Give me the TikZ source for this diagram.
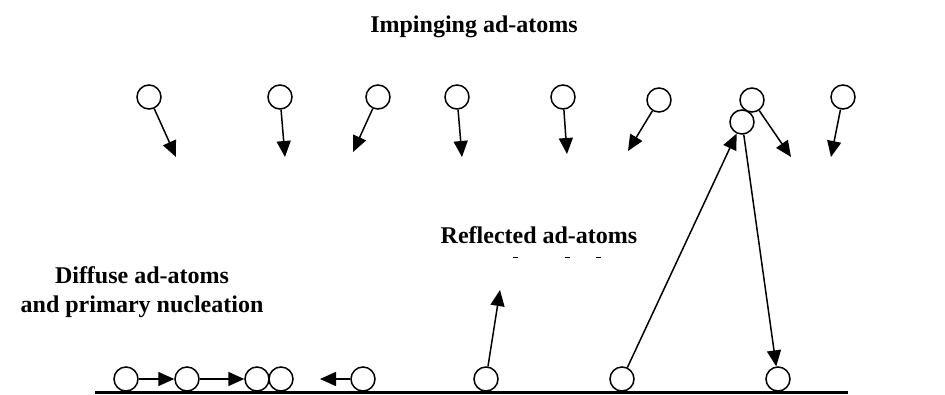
\documentclass[tikz,border=0pt]{standalone}
\usepackage{fontspec}
\setmainfont{Liberation Serif}
\usetikzlibrary{arrows.meta}
\begin{document}
\begin{tikzpicture}[x=1pt,y=1pt,
  atom/.style={circle,draw,line width=1.5pt,minimum size=24pt,inner sep=0pt},
  arr/.style={line width=1.5pt,-{Triangle[length=16pt,width=14pt]}},
  lbl/.style={font=\fontsize{24}{29}\selectfont\bfseries,inner sep=0pt,anchor=base}]
\useasboundingbox (0,0) rectangle (945,-394);
% labels
\node[lbl] (imp) at (474,-32) {Impinging ad-atoms};
\node[lbl] (ref) at (539,-243) {Reflected ad-atoms};
\node[lbl] (dif1) at (142,-283) {Diffuse ad-atoms};
\node[lbl] (dif2) at (142,-312) {and primary nucleation};
% impinging atoms
\node[atom] (t1) at (149,-97) {};
\node[atom] (t2) at (280,-97) {};
\node[atom] (t3) at (378,-97) {};
\node[atom] (t4) at (457,-97) {};
\node[atom] (t5) at (563,-97) {};
\node[atom] (t6) at (659,-100) {};
\node[atom] (t7) at (752,-100) {};
\node[atom] (t8) at (742,-122) {};
\node[atom] (t9) at (843,-97) {};
\coordinate (e1) at (176,-157);
\coordinate (e2) at (285,-157);
\coordinate (e3) at (353,-152);
\coordinate (e4) at (462,-157);
\coordinate (e5) at (567,-154);
\coordinate (e6) at (628,-151);
\coordinate (e7) at (791,-157);
\coordinate (e9) at (831,-157);
\draw[arr] (t1) -- (e1);
\draw[arr] (t2) -- (e2);
\draw[arr] (t3) -- (e3);
\draw[arr] (t4) -- (e4);
\draw[arr] (t5) -- (e5);
\draw[arr] (t6) -- (e6);
\draw[arr] (t7) -- (e7);
\draw[arr] (t9) -- (e9);
% surface
\coordinate (sL) at (95,-392.5);
\coordinate (sR) at (848,-392.5);
\draw[line width=3pt] (sL) -- (sR);
% surface atoms
\node[atom] (b1) at (126,-379) {};
\node[atom] (b2) at (187,-379) {};
\node[atom] (b3) at (257,-379) {};
\node[atom] (b4) at (281,-379) {};
\node[atom] (b5) at (363,-379) {};
\node[atom] (b6) at (486,-379) {};
\node[atom] (b7) at (622,-379) {};
\node[atom] (b8) at (778,-379) {};
\coordinate (e10) at (320,-379);
\coordinate (e11) at (500,-290);
\draw[arr] (b1) -- (b2);
\draw[arr] (b2) -- (b3);
\draw[arr] (b5) -- (e10);
\draw[arr] (b6) -- (e11);
\draw[arr] (b7) -- (t8);
\draw[arr] (t8) -- (b8);
% fragments under label
\foreach \xx in {515,567,598} \draw[line width=1pt] (\xx-2.5,-257) -- (\xx+2.5,-257);
\end{tikzpicture}
\end{document}
